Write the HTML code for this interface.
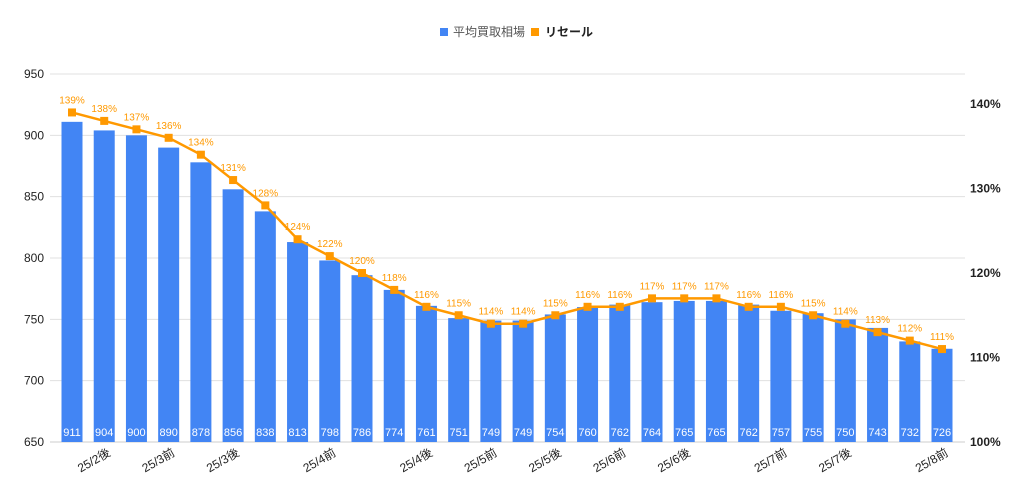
<!DOCTYPE html>
<html><head><meta charset="utf-8">
<style>
body{margin:0;background:#fff;}
svg{display:block;font-family:"Liberation Sans","Noto Sans CJK JP",sans-serif;}
</style></head>
<body>
<svg id="chart" width="1024" height="496" viewBox="0 0 1024 496">
  <g id="legend">
    <rect x="440" y="28" width="8" height="8" fill="#4285f4"/>
    <text x="453" y="36" font-size="12" fill="#555">平均買取相場</text>
    <rect x="531" y="28" width="8" height="8" fill="#ff9900"/>
    <text x="545" y="36" font-size="12" fill="#222" font-weight="bold">リセール</text>
  </g>
  <g id="grid"></g>
  <g id="bars"></g>
  <g id="line"></g>
  <g id="xlabels"></g>
</svg>
<script>
const categories=["","25/2後","","25/3前","","25/3後","","","25/4前","","","25/4後","","25/5前","","25/5後","","25/6前","","25/6後","","","25/7前","","25/7後","","","25/8前"];
const priceValues=[911,904,900,890,878,856,838,813,798,786,774,761,751,749,749,754,760,762,764,765,765,762,757,755,750,743,732,726];
const resaleValues=[139,138,137,136,134,131,128,124,122,120,118,116,115,114,114,115,116,116,117,117,117,116,116,115,114,113,112,111];
const leftTicks=[650,700,750,800,850,900,950];
const rightTicks=[100,110,120,130,140];

const NS="http://www.w3.org/2000/svg";
const plotL=50,plotR=965;
function yL(v){return 442-(v-650)*(368/300);}
function yR(p){return 442-(p-100)*(338/40);}
function xC(i){return 72+i*(870/(priceValues.length-1));}
function mk(tag,attrs,parent){const e=document.createElementNS(NS,tag);for(const k in attrs)e.setAttribute(k,attrs[k]);parent.appendChild(e);return e;}

const grid=document.getElementById('grid');
leftTicks.forEach(t=>{
  const ln=mk('line',{x1:plotL,x2:plotR,y1:yL(t),y2:yL(t),stroke:t===650?'#ccc':'#e0e0e0','stroke-width':1},grid);
  
  
  const tx=mk('text',{x:44,y:yL(t)+4,'text-anchor':'end','font-size':12,fill:'#222'},grid);
  tx.textContent=t;
  
  
});
rightTicks.forEach(t=>{
  const tx=mk('text',{x:970,y:yR(t)+4,'font-size':12,fill:'#222','font-weight':'bold'},grid);
  tx.textContent=t+'%';
  
  
});

const bars=document.getElementById('bars');
priceValues.forEach((v,i)=>{
  const x=xC(i),w=21;
  const r=mk('rect',{x:x-w/2,y:yL(v),width:w,height:442-yL(v),fill:'#4285f4'},bars);
  
  
  const t=mk('text',{x:x,y:436,'text-anchor':'middle','font-size':11,fill:'#fff'},bars);
  t.textContent=v;
  
  
});

const line=document.getElementById('line');
const pts=resaleValues.map((p,i)=>xC(i)+','+yR(p)).join(' ');
const pl=mk('polyline',{points:pts,fill:'none',stroke:'#ff9900','stroke-width':2.5},line);


resaleValues.forEach((p,i)=>{
  const x=xC(i),y=yR(p);
  const m=mk('rect',{x:x-4,y:y-4,width:8,height:8,fill:'#ff9900'},line);
  
  
  const t=mk('text',{x:x,y:y-9,'text-anchor':'middle','font-size':10,fill:'#ff9900'},line);
  t.textContent=p+'%';
  
  
});

const xl=document.getElementById('xlabels');
categories.forEach((c,i)=>{
  if(!c)return;
  const x=xC(i)+7,y=455;
  const t=mk('text',{x:x,y:y,'text-anchor':'end','font-size':12,fill:'#222',transform:'rotate(-30 '+x+' '+y+')'},xl);
  t.textContent=c;
  
  
});
</script>
</body></html>
